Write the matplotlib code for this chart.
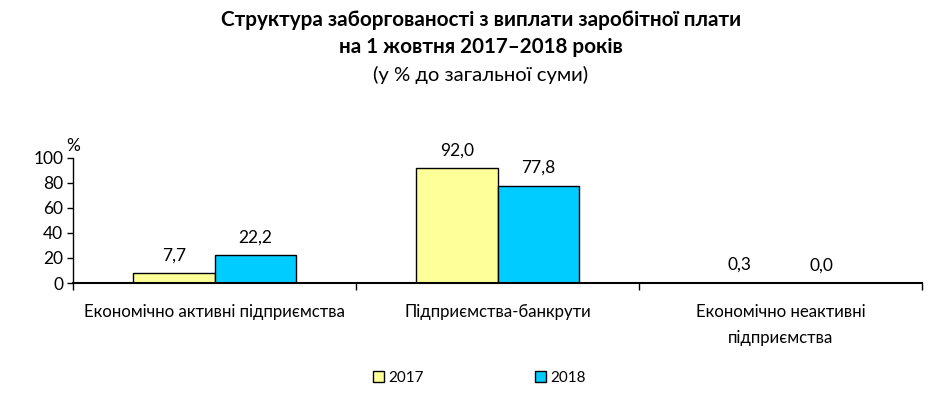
import matplotlib
matplotlib.use("Agg")
import matplotlib.pyplot as plt
import numpy as np

categories = ["Економічно активні підприємства", "Підприємства-банкрути", "Економічно неактивні\nпідприємства"]
years = ["2017", "2018"]
values_2017 = [7.7, 92.0, 0.3]
values_2018 = [22.2, 77.8, 0.0]
yticks = [0, 20, 40, 60, 80, 100]

colors = ["#FFFF99", "#00CCFF"]

plt.rcParams['font.family'] = ['Lato', 'DejaVu Sans']

fig = plt.figure(figsize=(9.46, 4.04), dpi=100)
ax = fig.add_axes([73/946, 1-283/404, (922-73)/946, (283-158)/404])

x = np.arange(len(categories))
w = 0.287
b1 = ax.bar(x - w/2, values_2017, w, color=colors[0], edgecolor="black", linewidth=1.0, label=years[0])
b2 = ax.bar(x + w/2, values_2018, w, color=colors[1], edgecolor="black", linewidth=1.0, label=years[1])

def fmt(v):
    return f"{v:.1f}".replace(".", ",")

for bars, vals in ((b1, values_2017), (b2, values_2018)):
    for r, v in zip(bars, vals):
        ax.annotate(fmt(v), (r.get_x() + r.get_width()/2, v), xytext=(0, 7),
                    textcoords="offset points", ha="center", va="bottom", fontsize=12.5)

ax.set_xlim(-0.5, 2.5)
ax.set_ylim(0, 100)
ax.set_yticks(yticks)
ax.set_yticklabels([str(t) for t in yticks], fontsize=12.5)
ax.set_xticks([-0.5, 0.5, 1.5, 2.5])
ax.set_xticklabels([])
ax.tick_params(axis='x', length=5, width=1, direction='out')
ax.tick_params(axis='y', length=4, width=1, direction='out', pad=3)
for i, c in enumerate(categories):
    ax.text(i, -16.5, c, ha="center", va="top", fontsize=12.1, linespacing=1.8,
            transform=ax.transData)
for s in ["top", "right"]:
    ax.spines[s].set_visible(False)
ax.spines["left"].set_linewidth(1)
ax.spines["bottom"].set_linewidth(1.5)

ax.text(0.0, 1.035, "%", transform=ax.transAxes, ha="center", va="bottom", fontsize=12.5)

fig.text(0.508, 1-20/404, "Структура заборгованості з виплати заробітної плати",
         ha="center", va="center", fontsize=14.9, fontweight="bold")
fig.text(0.508, 1-47/404, "на 1 жовтня 2017–2018 років",
         ha="center", va="center", fontsize=14.9, fontweight="bold")
fig.text(0.508, 1-75/404, "(у % до загальної суми)",
         ha="center", va="center", fontsize=14.6)

leg = fig.legend(handles=[b1, b2], labels=years, loc="center", bbox_to_anchor=(0.507, 1-378/404),
                 ncol=2, frameon=False, fontsize=11, handlelength=0.7, handleheight=0.7,
                 columnspacing=7.3, handletextpad=0.3)

fig.savefig("out.png", dpi=100)
